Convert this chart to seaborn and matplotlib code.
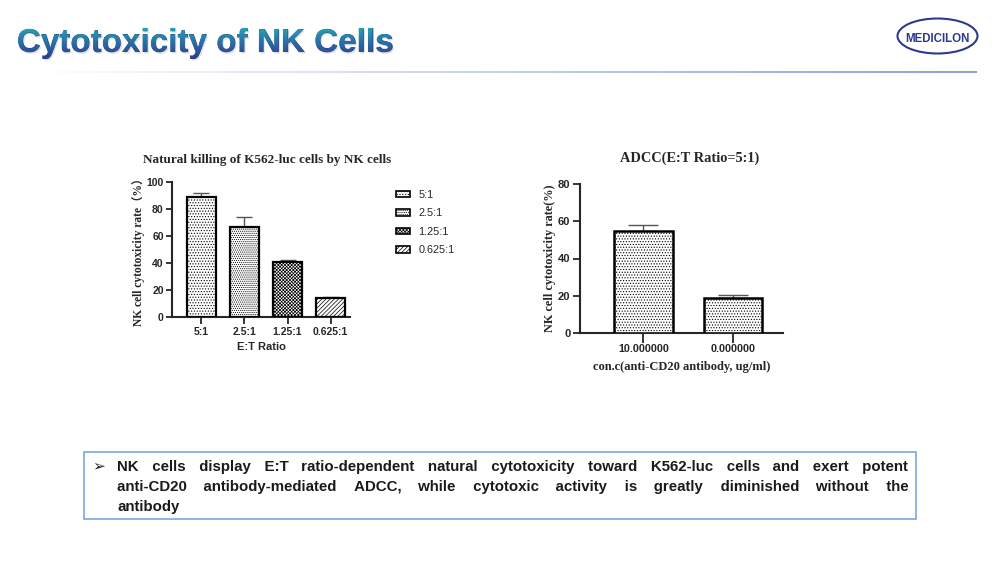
import numpy as np
import pandas as pd
import matplotlib
matplotlib.use("Agg")
import matplotlib.pyplot as plt
import seaborn as sns
from matplotlib.textpath import TextPath
from matplotlib.font_manager import FontProperties
from matplotlib.patches import PathPatch, Ellipse, Rectangle, Patch
from matplotlib.transforms import Affine2D

# ---------------- data ----------------
et_ratios = ["5:1", "2.5:1", "1.25:1", "0.625:1"]
et_killing = [89.0, 66.5, 41.0, 14.0]
et_err = [2.5, 7.5, 1.5, 0.8]
left_yticks = [0, 20, 40, 60, 80, 100]

adcc_conc = ["10.000000", "0.000000"]
adcc_rate = [54.5, 19.0]
adcc_err = [3.5, 1.5]
right_yticks = [0, 20, 40, 60, 80]

slide_title = "Cytotoxicity of NK Cells"
logo_text = "MEDICILON"
left_title = "Natural killing of K562-luc cells by NK cells"
right_title = "ADCC(E:T Ratio=5:1)"
left_ylabel = "NK cell cytotoxicity rate\uff08%\uff09"
right_ylabel = "NK cell cytotoxicity rate(%)"
left_xlabel = "E:T Ratio"
right_xlabel = "con.c(anti-CD20 antibody, ug/ml)"
summary_lines = [
    "NK cells display E:T ratio-dependent natural cytotoxicity toward K562-luc cells and exert potent",
    "anti-CD20 antibody-mediated ADCC, while cytotoxic activity is greatly diminished without the",
    "antibody",
]

# ---------------- style ----------------
sns.set_theme(style="ticks")
plt.rcParams["font.family"] = ["Liberation Sans", "DejaVu Sans"]
plt.rcParams["hatch.linewidth"] = 0.5
plt.rcParams["axes.linewidth"] = 1.5

SERIF = ["Liberation Serif", "Noto Sans CJK SC", "DejaVu Serif"]
SANS = ["Liberation Sans", "DejaVu Sans"]

fig = plt.figure(figsize=(10, 5.62), dpi=100)

# pixel overlay axes for slide decoration
ov = fig.add_axes([0, 0, 1, 1], zorder=0)
ov.set_xlim(0, 1000)
ov.set_ylim(562, 0)
ov.axis("off")
ov.patch.set_alpha(0)

# title: real text + gradient overlay clipped to the same glyph outline
fp = FontProperties(family="Liberation Sans", weight="bold")
tp = TextPath((0, 0), slide_title, size=1, prop=fp)
ext = tp.get_extents()
s = 374 / ext.width
x_pen = 18 - ext.x0 * s
y_base = 52
path = Affine2D().scale(s, -s).translate(x_pen, y_base).transform_path(tp)
shadow = PathPatch(Affine2D().translate(1.5, 1.5).transform_path(path),
                   facecolor="#c9cad3", edgecolor="none", alpha=0.6, zorder=1)
ov.add_patch(shadow)
ov.text(x_pen, y_base, slide_title, fontsize=s * 0.72, fontweight="bold",
        family=SANS, color="#2c3a90", ha="left", va="baseline", zorder=2)
clip = PathPatch(path, facecolor="none", edgecolor="none")
ov.add_patch(clip)
grad = np.linspace(0, 1, 64).reshape(-1, 1)
top = np.array([0.15, 0.64, 0.71])
bot = np.array([0.18, 0.21, 0.56])
img = top[None, None, :] * (1 - grad[:, :, None]) + bot[None, None, :] * grad[:, :, None]
im = ov.imshow(img, extent=[16, 395, 60, 27], aspect="auto", interpolation="bilinear", zorder=3)
im.set_clip_path(clip)

# separator line
lg = np.linspace(0, 1, 256)
line_img = np.stack([1 - 0.45 * lg, 1 - 0.37 * lg, 1 - 0.15 * lg], axis=-1)[None, :, :]
ov.imshow(line_img, extent=[30, 977, 73, 71.5], aspect="auto", zorder=1)

# logo
ov.add_patch(Ellipse((937.5, 36), 80, 35, facecolor="white", edgecolor="#2b3a8c", lw=1.5, zorder=2))
ov.text(937.5, 38.5, logo_text, ha="center", va="center", fontsize=8.3,
        fontweight="bold", color="#2b3a8c", family=SANS, zorder=3)
ov.set_xlim(0, 1000)
ov.set_ylim(562, 0)

# ---------------- left chart ----------------
axL = fig.add_axes([0.172, 1 - 317 / 562, 0.178, (317 - 182) / 562])
dfL = pd.DataFrame({"ratio": et_ratios, "rate": et_killing})
sns.barplot(data=dfL, x="ratio", y="rate", hue="ratio", order=et_ratios,
            hue_order=et_ratios, palette=["white"] * 4, saturation=1,
            edgecolor="black", linewidth=1.6, width=0.66, errorbar=None,
            legend=False, ax=axL, zorder=3)
hatches = ["......", "........", "xxxxxxxxxx", "////////"]
for cont, h in zip(axL.containers, hatches):
    for p in cont:
        p.set_hatch(h)
xs = np.arange(len(et_ratios))
axL.errorbar(xs, et_killing, yerr=[np.zeros(len(xs)), et_err], fmt="none",
             ecolor="#555555", elinewidth=1, capsize=6, capthick=1, zorder=2)
axL.set_xlim(-0.68, 3.45)
axL.set_ylim(0, 100)
axL.set_yticks(left_yticks)
sns.despine(ax=axL)
axL.tick_params(axis="both", direction="out", length=4, width=1.3, labelsize=7.5, pad=2)
axL.tick_params(axis="x", length=5, pad=2)
for lab in axL.get_xticklabels() + axL.get_yticklabels():
    lab.set_fontweight("bold")
    lab.set_family(SANS)
axL.set_xlabel(left_xlabel, fontsize=8, fontweight="bold", family=SANS, labelpad=4)
axL.set_ylabel(left_ylabel, fontsize=8.3, fontweight="bold", family=SERIF, labelpad=1)
axL.set_title(left_title, fontsize=9.5, fontweight="bold", family=SERIF, pad=14,
              x=(267 - 172) / 178)

handles = [Patch(facecolor="white", edgecolor="black", hatch=h, linewidth=1.2) for h in hatches]
axL.legend(handles, et_ratios, loc="upper left", bbox_to_anchor=(386 / 1000, 1 - 180 / 562),
           bbox_transform=fig.transFigure, frameon=False,
           handlelength=1.3, handleheight=0.55, labelspacing=0.78, handletextpad=0.8,
           prop={"family": SANS, "size": 7.8})

# ---------------- right chart ----------------
axR = fig.add_axes([0.580, 1 - 333 / 562, 0.203, (333 - 184) / 562])
dfR = pd.DataFrame({"conc": adcc_conc, "rate": adcc_rate})
sns.barplot(data=dfR, x="conc", y="rate", hue="conc", order=adcc_conc,
            hue_order=adcc_conc, palette=["white"] * 2, saturation=1,
            edgecolor="black", linewidth=1.8, width=0.65, errorbar=None,
            legend=False, ax=axR, zorder=3)
for cont in axR.containers:
    for p in cont:
        p.set_hatch("......")
xr = np.arange(len(adcc_conc))
axR.errorbar(xr, adcc_rate, yerr=[np.zeros(len(xr)), adcc_err], fmt="none",
             ecolor="#555555", elinewidth=1, capsize=10.5, capthick=1, zorder=2)
axR.set_xlim(-0.71, 1.56)
axR.set_ylim(0, 80)
axR.set_yticks(right_yticks)
sns.despine(ax=axR)
axR.tick_params(axis="both", direction="out", length=5, width=1.3, labelsize=8, pad=2)
axR.tick_params(axis="x", length=7, labelsize=7.8, pad=1)
for lab in axR.get_xticklabels() + axR.get_yticklabels():
    lab.set_fontweight("bold")
    lab.set_family(SANS)
axR.set_xlabel(right_xlabel, fontsize=9, fontweight="bold", family=SERIF, labelpad=5)
axR.set_ylabel(right_ylabel, fontsize=8.8, fontweight="bold", family=SERIF, labelpad=1)
axR.set_title(right_title, fontsize=10.4, fontweight="bold", family=SERIF, pad=16,
              x=(690 - 580) / 203)

# ---------------- summary box ----------------
ov.add_patch(Rectangle((84, 452), 832, 67, facecolor="white", edgecolor="#6f9fd8", lw=1.1, zorder=1))
ov.text(92, 466, "\u27a2", fontsize=11, family=["DejaVu Sans"], color="#222222",
        va="center", zorder=3)

renderer = fig.canvas.get_renderer()
body_fp = FontProperties(family=SANS, weight="bold", size=10.8)


def ink_w(txt):
    return renderer.get_text_width_height_descent(txt, body_fp, ismath=False)[0]


HAIR = "\u200a"
hair_w = ink_w("a" + HAIR + "a") - ink_w("aa")
x_left, x_right = 117, 908


def justified(words):
    """Build one string whose inter-word spacing approximates full justification."""
    widths = [ink_w(w) for w in words]
    gap = (x_right - x_left - sum(widths)) / (len(words) - 1)
    out = words[0]
    for k in range(1, len(words)):
        target = sum(widths[:k]) + k * gap
        nxt = words[k]
        base = ink_w(nxt)
        sp = " "
        while ink_w(out + sp + " " + nxt) - base <= target + 0.5:
            sp += " "
        if hair_w > 0.3:
            while ink_w(out + sp + HAIR + nxt) - base <= target + hair_w / 2:
                sp += HAIR
        out = out + sp + nxt
    return out


for i, line in enumerate(summary_lines):
    y = 471.5 + 19.5 * i
    words = line.split(" ")
    txt = justified(words) if (i < len(summary_lines) - 1 and len(words) > 1) else line
    ov.text(x_left, y, txt, fontproperties=body_fp, color="#1a1a1a",
            va="baseline", ha="left", zorder=3)

fig.savefig("out.png", dpi=100)
